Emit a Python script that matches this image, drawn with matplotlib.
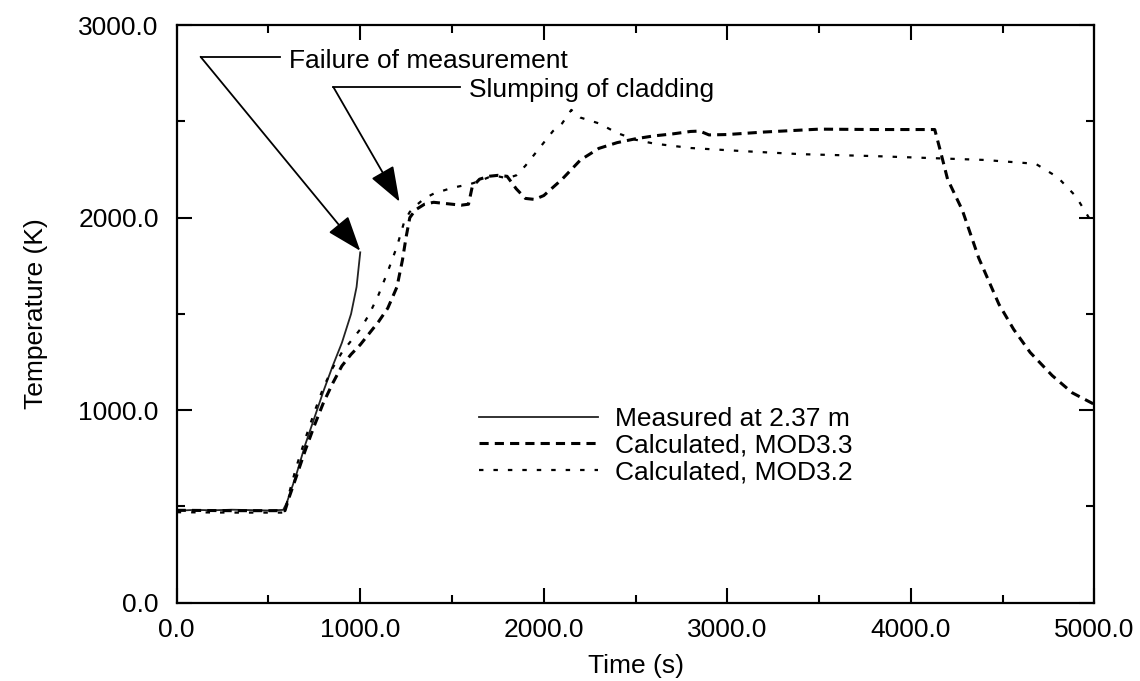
import matplotlib.pyplot as plt
from matplotlib.ticker import FormatStrFormatter, MultipleLocator

plt.rcParams["font.family"] = ["Liberation Sans", "DejaVu Sans"]

# measured thermocouple, fails near 1000 s
measured_t = [0, 100, 200, 300, 400, 500, 580, 600, 650, 700, 750, 800, 850, 900, 950, 980, 1000]
measured_T = [478, 482, 480, 483, 481, 479, 482, 520, 660, 820, 960, 1100, 1230, 1350, 1500, 1640, 1820]

mod33_t = [0, 300, 590, 610, 650, 700, 750, 800, 850, 900, 950, 1000, 1050, 1100, 1150, 1200,
           1230, 1250, 1270, 1300, 1350, 1400, 1450, 1500, 1550, 1590, 1610, 1650, 1700, 1750,
           1800, 1850, 1900, 1950, 2000, 2100, 2200, 2300, 2400, 2500, 2600, 2700, 2800, 2850,
           2900, 3000, 3200, 3500, 3800, 4000, 4130, 4160, 4200, 4280, 4370, 4480, 4560, 4650,
           4770, 4880, 5000]
mod33_T = [480, 478, 478, 540, 650, 790, 920, 1040, 1140, 1230, 1290, 1340, 1400, 1460, 1530, 1640,
           1780, 1900, 2000, 2040, 2070, 2080, 2075, 2070, 2065, 2070, 2160, 2200, 2215, 2220,
           2215, 2150, 2100, 2095, 2115, 2200, 2300, 2360, 2390, 2410, 2425, 2435, 2448, 2450,
           2430, 2432, 2445, 2460, 2458, 2458, 2458, 2350, 2200, 2040, 1790, 1550, 1420, 1300,
           1180, 1090, 1030]

mod32_t = [0, 300, 590, 610, 650, 700, 750, 800, 850, 900, 950, 1000, 1050, 1100, 1150, 1200,
           1240, 1270, 1300, 1350, 1400, 1450, 1500, 1550, 1600, 1650, 1700, 1750, 1800, 1850,
           1900, 1950, 2000, 2050, 2100, 2150, 2200, 2300, 2400, 2500, 2600, 2800, 3100, 3400,
           3800, 4100, 4400, 4680, 4800, 4900, 4970]
mod32_T = [470, 468, 468, 560, 700, 850, 990, 1120, 1220, 1300, 1360, 1420, 1500, 1600, 1720, 1850,
           1980, 2030, 2060, 2100, 2125, 2140, 2155, 2165, 2175, 2190, 2210, 2215, 2205, 2220,
           2270, 2330, 2390, 2450, 2490, 2560, 2520, 2490, 2440, 2405, 2385, 2362, 2345, 2330,
           2320, 2310, 2300, 2280, 2210, 2110, 2000]

labels = ["Measured at 2.37 m", "Calculated, MOD3.3", "Calculated, MOD3.2"]

# annotation geometry: (corner of leader, end of horizontal leader, arrow tip, text)
notes = [
    ((130, 2836), 562, (1000, 1828), (614, 2776), "Failure of measurement"),
    ((854, 2678), 1541, (1214, 2083), (1594, 2626), "Slumping of cladding"),
]

fig = plt.figure(figsize=(11.4, 6.81), dpi=100)
ax = fig.add_axes([0.155, 0.115, 0.805, 0.848])

ax.plot(measured_t, measured_T, color="#222222", lw=1.3, label=labels[0])
ax.plot(mod33_t, mod33_T, color="black", lw=2.2, linestyle=(0, (3, 2)), label=labels[1])
ax.plot(mod32_t, mod32_T, color="black", lw=1.6, linestyle=(0, (2, 4.5)), label=labels[2])

for corner, line_end, tip, text_pos, text in notes:
    ax.plot([corner[0], line_end], [corner[1], corner[1]], color="black", lw=1.3, clip_on=False)
    ax.annotate("", xy=tip, xytext=corner,
                arrowprops=dict(arrowstyle="-|>,head_length=1.1,head_width=0.4",
                                mutation_scale=20, lw=1.3, color="black",
                                shrinkA=0, shrinkB=0))
    ax.text(text_pos[0], text_pos[1], text, fontsize=19, va="baseline", ha="left")

leg = ax.legend(loc="upper left", bbox_to_anchor=(0.315, 0.362), frameon=False, fontsize=19,
                handlelength=4.5, handletextpad=0.65, labelspacing=0.1, borderpad=0)

ax.set_xlim(0, 5000)
ax.set_ylim(0, 3000)
ax.xaxis.set_major_locator(MultipleLocator(1000))
ax.xaxis.set_minor_locator(MultipleLocator(500))
ax.yaxis.set_major_locator(MultipleLocator(1000))
ax.yaxis.set_minor_locator(MultipleLocator(500))
ax.xaxis.set_major_formatter(FormatStrFormatter("%.1f"))
ax.yaxis.set_major_formatter(FormatStrFormatter("%.1f"))
ax.tick_params(which="both", direction="in", top=True, right=True, width=1.5)
ax.tick_params(which="major", length=11, labelsize=19)
ax.tick_params(axis="x", which="major", pad=11)
ax.tick_params(axis="y", which="major", pad=13)
ax.tick_params(which="minor", length=6)
for spine in ax.spines.values():
    spine.set_linewidth(1.6)

ax.set_xlabel("Time (s)", fontsize=19, labelpad=9)
ax.set_ylabel("Temperature (K)", fontsize=19, labelpad=22)

fig.savefig("out.png", dpi=100)
